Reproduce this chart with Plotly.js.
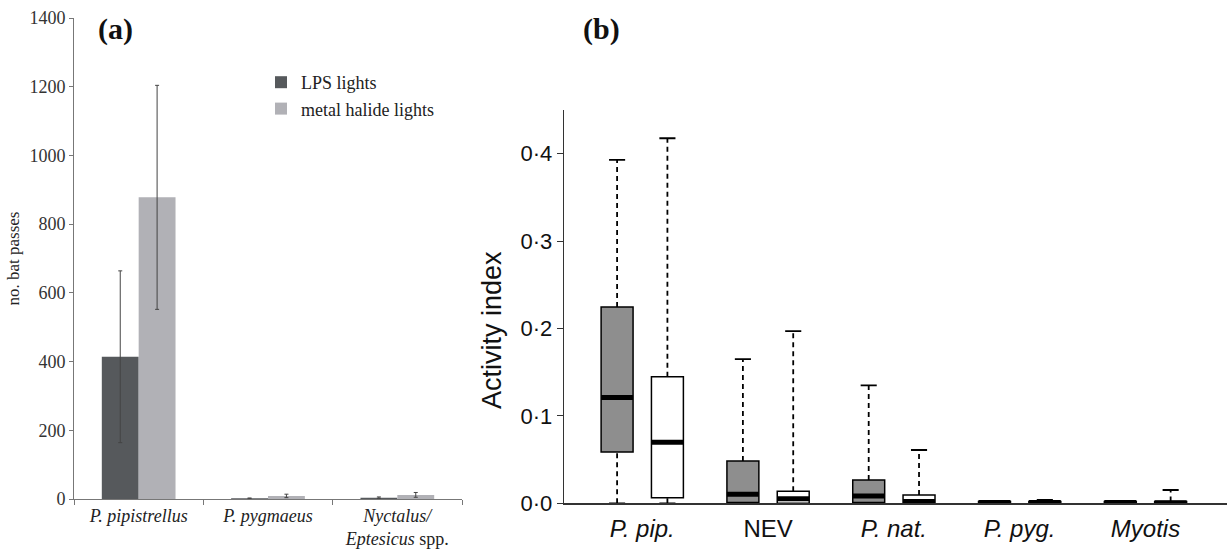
<!DOCTYPE html>
<html><head><meta charset="utf-8">
<script src="https://cdn.plot.ly/plotly-3.0.1.min.js"></script>
<style>body{margin:0;background:#fff}#chart{width:1227px;height:550px}</style>
</head><body><div id="chart"></div>
<script>
// Panel (a): bat passes
const speciesA = ['<i>P. pipistrellus</i>', '<i>P. pygmaeus</i>', '<i>Nyctalus/</i><br><i>Eptesicus</i> spp.'];
const lpsPasses = [414, 2, 4];
const lpsErr = [250, 1, 2];
const mhPasses = [878, 9, 12];
const mhErr = [326, 5, 7];

// Panel (b): activity index box plots
const speciesB = ['<i>P. pip.</i>', 'NEV', '<i>P. nat.</i>', '<i>P. pyg.</i>', '<i>Myotis</i>'];
const greyLower  = [0, 0, 0, 0, 0];
const greyQ1     = [0.0588, 0.001, 0.001, 0, 0];
const greyMedian = [0.121, 0.0103, 0.0084, 0.001, 0.001];
const greyQ3     = [0.2245, 0.0485, 0.0267, 0.002, 0.002];
const greyUpper  = [0.393, 0.165, 0.135, 0.002, 0.002];
const whiteLower  = [0, 0, 0, 0, 0];
const whiteQ1     = [0.0064, 0, 0, 0, 0];
const whiteMedian = [0.0699, 0.0053, 0.002, 0.001, 0.0005];
const whiteQ3     = [0.1447, 0.0137, 0.0095, 0.002, 0.002];
const whiteUpper  = [0.4177, 0.197, 0.061, 0.004, 0.0152];
const yTickVals = [0, 0.1, 0.2, 0.3, 0.4];
const yTickText = ['0·0', '0·1', '0·2', '0·3', '0·4'];

const serif = 'Liberation Serif, Times New Roman, serif';
const sans = 'Liberation Sans, Arial, sans-serif';

const traces = [];
traces.push({
  type: 'bar', name: 'LPS lights', x: speciesA, y: lpsPasses,
  marker: {color: '#56595c'},
  error_y: {type: 'data', array: lpsErr, color: '#444', thickness: 1, width: 2},
  xaxis: 'x', yaxis: 'y'
});
traces.push({
  type: 'bar', name: 'metal halide lights', x: speciesA, y: mhPasses,
  marker: {color: '#b1b1b6'},
  error_y: {type: 'data', array: mhErr, color: '#444', thickness: 1, width: 2},
  xaxis: 'x', yaxis: 'y'
});

const offset = 0.2, boxW = 0.254, capHalf = 0.064;
function addGroup(shift, fill, lower, q1, med, q3, upper) {
  const pos = speciesB.map((_, i) => i + shift);
  traces.push({
    type: 'box', x: pos, q1: q1, median: med, q3: q3,
    lowerfence: q1, upperfence: q3, width: boxW,
    fillcolor: fill, line: {color: '#000', width: 1.5},
    showlegend: false, hoverinfo: 'skip', xaxis: 'x2', yaxis: 'y2'
  });
  const wx = [], wy = [], cx = [], cy = [], mx = [], my = [];
  pos.forEach((p, i) => {
    if (upper[i] > q3[i]) {
      wx.push(p, p, null); wy.push(q3[i], upper[i], null);
      cx.push(p - capHalf, p + capHalf, null); cy.push(upper[i], upper[i], null);
    }
    if (q1[i] > lower[i]) {
      wx.push(p, p, null); wy.push(lower[i], q1[i], null);
      cx.push(p - capHalf, p + capHalf, null); cy.push(lower[i], lower[i], null);
    }
    mx.push(p - boxW / 2, p + boxW / 2, null); my.push(med[i], med[i], null);
  });
  traces.push({type: 'scatter', mode: 'lines', x: wx, y: wy,
    line: {color: '#000', width: 1.8, dash: '5px,4px'},
    showlegend: false, hoverinfo: 'skip', xaxis: 'x2', yaxis: 'y2'});
  traces.push({type: 'scatter', mode: 'lines', x: cx, y: cy,
    line: {color: '#000', width: 1.8},
    showlegend: false, hoverinfo: 'skip', xaxis: 'x2', yaxis: 'y2'});
  traces.push({type: 'scatter', mode: 'lines', x: mx, y: my,
    line: {color: '#000', width: 5},
    showlegend: false, hoverinfo: 'skip', xaxis: 'x2', yaxis: 'y2'});
}
addGroup(-offset, '#8e8e8e', greyLower, greyQ1, greyMedian, greyQ3, greyUpper);
addGroup(offset, '#ffffff', whiteLower, whiteQ1, whiteMedian, whiteQ3, whiteUpper);

const W = 1227, H = 550;
const layout = {
  width: W, height: H,
  margin: {l: 0, r: 0, t: 0, b: 0},
  paper_bgcolor: '#fff', plot_bgcolor: 'rgba(0,0,0,0)',
  barmode: 'group', bargap: 0.43, bargroupgap: 0,
  boxmode: 'overlay',
  showlegend: true,
  legend: {x: 261 / W, y: 1 - 64 / H, xanchor: 'left', yanchor: 'top',
    bgcolor: 'rgba(0,0,0,0)', font: {family: serif, size: 18, color: '#222'},
    itemwidth: 30, tracegroupgap: 0},
  xaxis: {domain: [74 / W, 462 / W], anchor: 'y', type: 'category',
    showline: true, linecolor: '#777', linewidth: 1,
    ticks: 'outside', tickson: 'boundaries', ticklen: 5, tickcolor: '#777',
    tickfont: {family: serif, size: 18, color: '#222'}, showgrid: false, zeroline: false},
  yaxis: {domain: [1 - 499 / H, 1 - 18 / H], anchor: 'x', range: [0, 1400], dtick: 200,
    showline: true, linecolor: '#777', linewidth: 1,
    ticks: 'outside', ticklen: 4, tickcolor: '#777', showgrid: false, zeroline: false,
    tickfont: {family: serif, size: 18, color: '#333'},
    title: {text: 'no. bat passes', font: {family: serif, size: 17, color: '#222'}, standoff: 5}},
  xaxis2: {domain: [564 / W, 1], anchor: 'y2', range: [-0.622, 4.648],
    tickvals: speciesB.map((_, i) => i), ticktext: speciesB,
    showline: true, linecolor: '#333', linewidth: 1.3, ticks: '',
    ticklabelstandoff: 4,
    showgrid: false, zeroline: false,
    tickfont: {family: sans, size: 24, color: '#111'}},
  yaxis2: {domain: [1 - 503.3 / H, 1 - 110 / H], anchor: 'x2', range: [0, 0.45],
    tickvals: yTickVals, ticktext: yTickText,
    showline: true, linecolor: '#333', linewidth: 1.3,
    ticks: 'outside', ticklen: 6, tickcolor: '#333', showgrid: false, zeroline: false,
    tickfont: {family: sans, size: 22, color: '#111'}},
  annotations: [
    {text: '<b>(a)</b>', xref: 'paper', yref: 'paper', x: 115 / W, y: 1 - 29 / H,
      xanchor: 'center', yanchor: 'middle', showarrow: false,
      font: {family: serif, size: 30, color: '#111'}},
    {text: '<b>(b)</b>', xref: 'paper', yref: 'paper', x: 601 / W, y: 1 - 29 / H,
      xanchor: 'center', yanchor: 'middle', showarrow: false,
      font: {family: serif, size: 30, color: '#111'}},
    {text: 'Activity index', xref: 'paper', yref: 'paper', x: 492 / W, y: 1 - 330 / H,
      xanchor: 'center', yanchor: 'middle', textangle: -90, showarrow: false,
      font: {family: sans, size: 27, color: '#111'}}
  ]
};
Plotly.newPlot('chart', traces, layout, {displayModeBar: false, staticPlot: true});
</script>
</body></html>
